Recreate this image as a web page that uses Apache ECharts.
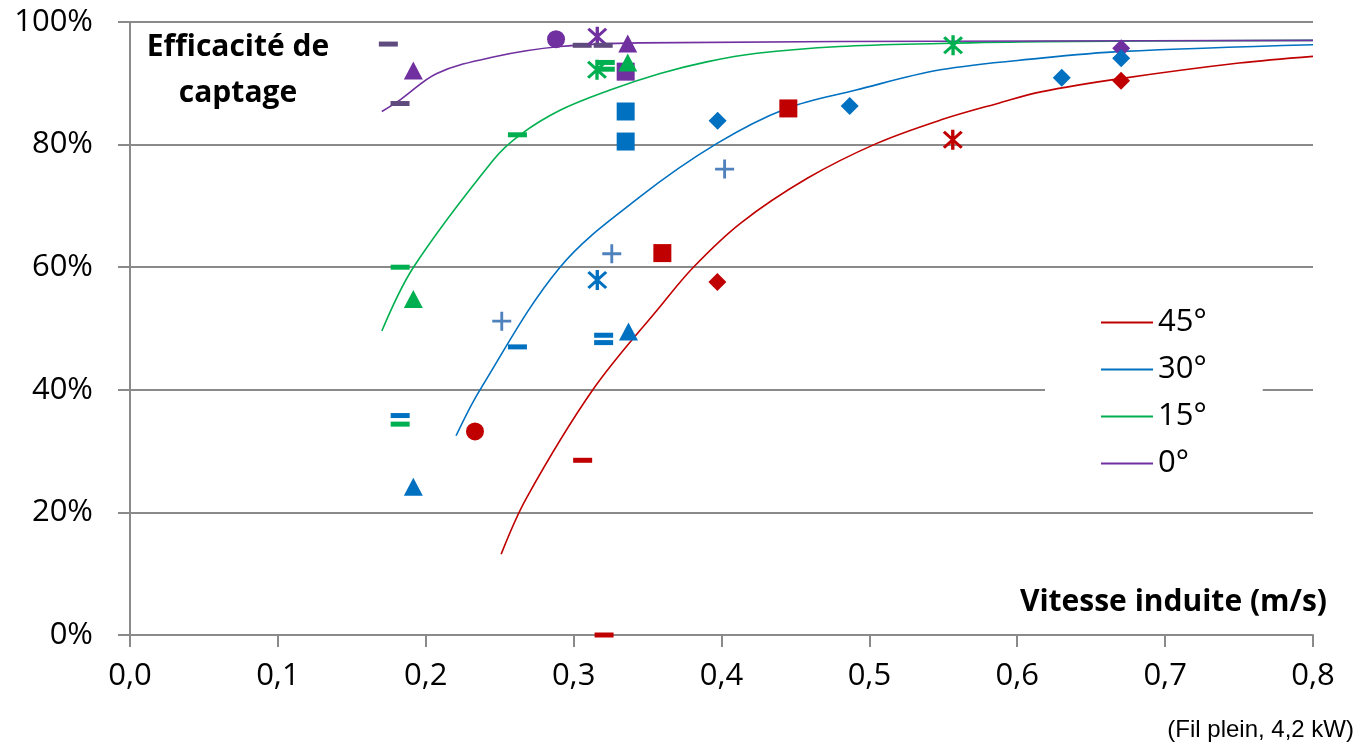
<!DOCTYPE html>
<html>
<head>
<meta charset="utf-8">
<title>Efficacité de captage</title>
<script src="https://cdn.jsdelivr.net/npm/echarts/dist/echarts.min.js"></script>
<style>
	html,body{margin:0;padding:0;background:#fff;}
	#chart{width:1360px;height:751px;}
</style>
</head>
<body>
<div id="chart"></div>
<script>
// courbes : [vitesse m/s, efficacité %]
var curve45 = [[0.251,13.2],[0.268,22.3],[0.313,40.0],[0.3585,53.6],[0.381,60.0],[0.413,67.2],[0.458,74.5],[0.505,80.2],[0.548,84.0],[0.588,86.8],[0.616,88.6],[0.671,90.8],[0.75,93.3],[0.8,94.4]];
var curve30 = [[0.2205,32.5],[0.2367,40.0],[0.2908,60.0],[0.345,71.5],[0.397,80.2],[0.444,85.9],[0.491,88.9],[0.548,92.2],[0.616,94.1],[0.671,95.2],[0.8,96.3]];
var curve15 = [[0.1703,49.6],[0.1917,60.0],[0.2457,77.5],[0.2638,81.6],[0.2908,85.6],[0.3246,88.9],[0.3585,91.6],[0.39,93.5],[0.424,94.9],[0.48,96.0],[0.548,96.5],[0.616,96.8],[0.8,97.0]];
var curve0  = [[0.1703,85.4],[0.1827,87.3],[0.2075,91.6],[0.2457,94.3],[0.2908,96.0],[0.345,96.6],[0.616,96.9],[0.8,97.0]];

// mesures : [type de marqueur, vitesse, efficacité]
var pts45 = [['circle',0.2333,33.2],['dash',0.3061,28.5],['dash',0.3206,0.0],['square',0.3600,62.3],['diamond',0.3972,57.6],['square',0.4452,85.9],['star',0.5564,80.8],['diamond',0.6702,90.4]];
var pts30 = [['triangle',0.1916,24.2],['dash',0.1827,35.8],['plus',0.2514,51.2],['dash',0.2620,47.0],['star',0.3160,57.9],['dash',0.3203,48.9],['dash',0.3203,47.7],['plus',0.3258,62.2],['triangle',0.3371,49.5],['square',0.3352,85.4],['square',0.3352,80.5],['diamond',0.3974,83.9],['plus',0.4021,76.0],['diamond',0.4867,86.3],['diamond',0.6301,90.9],['diamond',0.6703,94.1]];
var pts15 = [['dash',0.1827,34.4],['triangle',0.1916,54.8],['dash',0.1827,60.0],['dash',0.2620,81.6],['star',0.3158,92.2],['dash',0.3214,93.4],['dash',0.3214,92.3],['triangle',0.3366,93.4],['star',0.5566,96.2]];
var pts0  = [['dash',0.1747,96.4],['dash',0.1826,86.7],['triangle',0.1916,92.1],['circle',0.2881,97.2],['dash',0.3058,96.2],['star',0.3160,97.6],['dash',0.3200,96.2],['square',0.3352,91.9],['triangle',0.3366,96.5],['diamond',0.6703,95.7]];

var xTicks = ['0,0','0,1','0,2','0,3','0,4','0,5','0,6','0,7','0,8'];

var RED='#c00000', BLUE='#0070c0', GREEN='#00b050', PURPLE='#7030a0';
var grey='#8a8a8a';
var font='"Open Sans", sans-serif';

var marks = {
	circle:{symbol:'circle',size:18},
	square:{symbol:'rect',size:[18,18]},
	diamond:{symbol:'diamond',size:[18,18]},
	triangle:{symbol:'triangle',size:[19,18]},
	dash:{symbol:'rect',size:[19,5]},
	plus:{symbol:'path://M8.5,0H11.5V8.5H20V11.5H11.5V20H8.5V11.5H0V8.5H8.5Z',size:[19,19]},
	star:{symbol:'path://M8.5,0H11.5V20H8.5Z M1,3L3,1L19,17L17,19Z M17,1L19,3L3,19L1,17Z',size:[20,20]}
};

function buildPoints(pts,color){
	var out=[];
	for(var i=0;i<pts.length;i++){
		var m=marks[pts[i][0]];
		var c=color;
		if(color==PURPLE && pts[i][0]=='dash'){ c='#5f4b7e'; }
		if(color==BLUE && pts[i][0]=='plus'){ c='#4f81bd'; }
		out.push({
			value:[pts[i][1],pts[i][2]],
			symbol:m.symbol,
			symbolSize:m.size,
			itemStyle:{color:c,opacity:1}
		});
	}
	return out;
}

function lineSerie(name,data,color){
	return {
		name:name,
		type:'line',
		data:data,
		smooth:0.35,
		symbol:'none',
		z:2,
		color:color,
		lineStyle:{color:color,width:1.6}
	};
}

function scatterSerie(name,pts,color){
	return {
		name:name,
		type:'scatter',
		data:buildPoints(pts,color),
		itemStyle:{opacity:1},
		z:5,
		silent:true
	};
}

var chart = echarts.init(document.getElementById('chart'));
var option = {
	animation:false,
	backgroundColor:'#fff',
	grid:{left:130,right:47,top:22,bottom:116},
	legend:{
		data:['45°','30°','15°','0°'],
		orient:'vertical',
		left:1045,
		top:305,
		padding:[2,56,2,56],
		backgroundColor:'#fff',
		icon:'rect',
		itemWidth:52,
		itemHeight:2,
		itemGap:16,
		textStyle:{color:'#000',fontSize:31,fontFamily:font,lineHeight:30}
	},
	xAxis:{
		type:'value',
		min:0,max:0.8,interval:0.1,
		axisLine:{show:true,lineStyle:{color:grey,width:2}},
		axisTick:{show:true,length:12,lineStyle:{color:grey,width:2}},
		splitLine:{show:false},
		axisLabel:{
			color:'#000',fontSize:31,fontFamily:font,margin:26,
			formatter:function(v){ return xTicks[Math.round(v*10)]; }
		}
	},
	yAxis:{
		type:'value',
		min:0,max:100,interval:20,
		axisLine:{show:true,lineStyle:{color:grey,width:2}},
		axisTick:{show:true,length:12,lineStyle:{color:grey,width:2}},
		splitLine:{show:true,lineStyle:{color:grey,width:2}},
		axisLabel:{color:'#000',fontSize:31,fontFamily:font,margin:37,formatter:'{value}%'}
	},
	graphic:[
		{type:'text',x:238,y:24,style:{text:'Efficacité de\ncaptage',font:'bold 30px "Open Sans"',fill:'#000',textAlign:'center',lineHeight:46}},
		{type:'text',right:33,top:587,style:{text:'Vitesse induite (m/s)',font:'bold 30px "Open Sans"',fill:'#000'}},
		{type:'text',right:6,top:718,style:{text:'(Fil plein, 4,2 kW)',font:'24px "Liberation Sans"',fill:'#000'}}
	],
	series:[
		lineSerie('45°',curve45,RED),
		lineSerie('30°',curve30,BLUE),
		lineSerie('15°',curve15,GREEN),
		lineSerie('0°',curve0,PURPLE),
		scatterSerie('mes 0°',pts0,PURPLE),
		scatterSerie('mes 15°',pts15,GREEN),
		scatterSerie('mes 30°',pts30,BLUE),
		scatterSerie('mes 45°',pts45,RED)
	]
};
chart.setOption(option);
</script>
</body>
</html>
